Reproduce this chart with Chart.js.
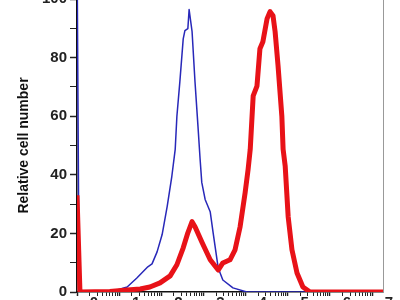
<!doctype html>
<html>

<head>
    <title>Histogram</title>
    <script src="https://cdn.jsdelivr.net/npm/chart.js"></script>
</head>

<body style="margin:0; overflow:hidden; background:#fff;">

    <div style="position:absolute; left:0; top:-13px; width:400px; height:330px;">
        <canvas id="histograma" width="400" height="330"></canvas>
    </div>

    <script>

    // x in decades (log channel), y in relative cell number
    const azulX = [0, 0.05, 0.78, 0.95, 1.19, 1.42, 1.68, 1.78, 1.90, 2.02, 2.14, 2.25, 2.33, 2.37, 2.44, 2.52, 2.56, 2.63, 2.66, 2.73, 2.80, 2.87, 2.92, 2.96, 3.04, 3.16, 3.23, 3.35, 3.46, 3.70, 4.03, 7.26];
    const azulY = [120, 0, 0, 0.7, 1.7, 4.8, 8.6, 9.6, 13.7, 19.6, 29.2, 39.5, 48.7, 60, 71.7, 86.4, 89.2, 89.9, 96.4, 88.9, 71.7, 56.6, 45.5, 37.4, 31.6, 27.4, 20.2, 8.2, 4.1, 1.4, 0, 0];

    const vermelhoX = [0, 0.07, 0.78, 1.19, 1.50, 1.73, 1.97, 2.21, 2.37, 2.52, 2.63, 2.73, 2.80, 2.97, 3.16, 3.35, 3.46, 3.63, 3.75, 3.87, 3.99, 4.06, 4.11, 4.18, 4.27, 4.34, 4.41, 4.51, 4.58, 4.65, 4.70, 4.77, 4.86, 4.89, 4.94, 5.01, 5.10, 5.22, 5.36, 5.53, 7.26];
    const vermelhoY = [33, 0, 0.2, 0.7, 1.0, 1.7, 3.1, 5.5, 9.3, 15.1, 20.2, 24.0, 22.3, 16.8, 11.0, 7.5, 9.9, 11.0, 14.4, 22.3, 34.0, 41.9, 48.7, 66.9, 70.3, 83.0, 85.4, 93.3, 95.7, 94.3, 88.9, 77.2, 60, 48.7, 42.9, 25.7, 14.4, 6.5, 1.7, 0, 0];

    const DECADAS = [0, 1, 2, 3, 4, 5, 6, 7];

    function pontos(xs, ys) {
        return xs.map((x, i) => ({ x: x, y: ys[i] }));
    }

    var histograma = new Chart(document.getElementById('histograma').getContext('2d'), {
        type: 'line',
        data: {
            datasets: [{
                label: 'Vermelho',
                data: pontos(vermelhoX, vermelhoY),
                borderColor: 'rgb(232,18,24)',
                borderWidth: 5,
                borderJoinStyle: 'round',
                pointRadius: 0,
                tension: 0,
                fill: false
            },
            {
                label: 'Azul',
                data: pontos(azulX, azulY),
                borderColor: 'rgb(40,40,185)',
                borderWidth: 1.5,
                borderJoinStyle: 'round',
                pointRadius: 0,
                tension: 0,
                fill: false
            }]
        },
        options: {
            responsive: false,
            animation: false,
            layout: { padding: { top: 0, right: 17, bottom: 0, left: 0 } },
            plugins: {
                legend: { display: false },
                tooltip: { enabled: false }
            },
            scales: {
                x: {
                    type: 'linear',
                    min: 0,
                    max: 7.26,
                    afterBuildTicks: (scale) => {
                        var ticks = [];
                        DECADAS.forEach((d) => {
                            ticks.push({ value: d });
                            if (d < 7) {
                                for (var k = 2; k <= 9; k++) {
                                    ticks.push({ value: d + Math.log10(k) });
                                }
                            }
                        });
                        scale.ticks = ticks;
                    },
                    afterFit: (scale) => { scale.height = 25; },
                    border: { color: '#111', width: 1.5 },
                    grid: {
                        drawOnChartArea: false,
                        tickLength: 4,
                        tickColor: '#222',
                        tickWidth: (ctx) => (ctx.tick && Number.isInteger(ctx.tick.value)) ? 1.5 : 1
                    },
                    ticks: {
                        autoSkip: false,
                        maxRotation: 0,
                        padding: -2,
                        labelOffset: 17,
                        color: '#222',
                        font: { family: 'Liberation Sans', size: 15, weight: 'bold' },
                        callback: (v) => Number.isInteger(v) ? String(v) : ''
                    }
                },
                y: {
                    min: 0,
                    max: 100,
                    afterFit: (scale) => { scale.width = 77; },
                    border: { color: '#111', width: 1.5 },
                    grid: {
                        drawOnChartArea: false,
                        tickLength: 7,
                        tickColor: '#222',
                        tickWidth: (ctx) => (ctx.tick && ctx.tick.value % 20 === 0) ? 1.5 : 1
                    },
                    ticks: {
                        stepSize: 5,
                        padding: 3,
                        color: '#222',
                        font: { family: 'Liberation Sans', size: 15, weight: 'bold' },
                        callback: (v) => v % 20 === 0 ? String(v) : ''
                    },
                    title: {
                        display: true,
                        text: 'Relative cell number',
                        color: '#111',
                        padding: { top: 16, bottom: 0 },
                        font: { family: 'Liberation Sans', size: 14, weight: 'bold' }
                    }
                },
                y2: {
                    position: 'right',
                    min: 0,
                    max: 100,
                    border: { color: '#999', width: 1 },
                    grid: { drawOnChartArea: false, drawTicks: false },
                    ticks: { display: false }
                }
            }
        }
    });

    </script>
</body>

</html>
